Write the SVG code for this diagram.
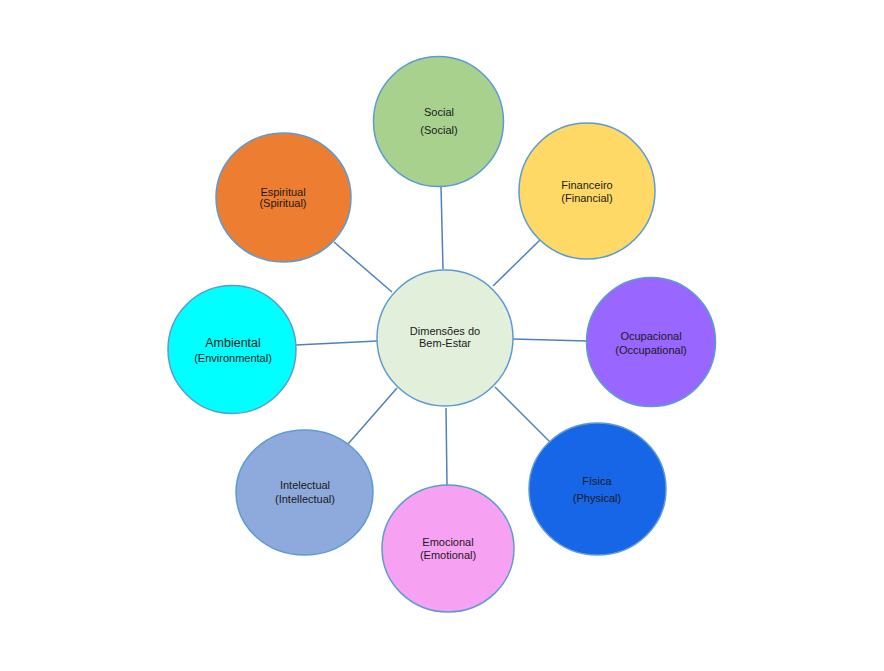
<svg xmlns="http://www.w3.org/2000/svg" width="884" height="671" viewBox="0 0 884 671">
<style>
.n{stroke:#5B9BD5;stroke-width:1.5}
.t{font-family:"Liberation Sans",Arial,sans-serif;font-size:11px;fill:#1a1a1a;text-anchor:middle}
.big{font-size:12.5px}
#connectors line{stroke:#4F81BD;stroke-width:1.5}
</style>
<rect width="884" height="671" fill="#ffffff"/>
<g id="connectors">
<line x1="441" y1="186" x2="443" y2="269"/>
<line x1="540" y1="240" x2="493" y2="286"/>
<line x1="513" y1="339" x2="587" y2="341"/>
<line x1="495" y1="387" x2="551" y2="443"/>
<line x1="446" y1="408" x2="447" y2="485"/>
<line x1="397" y1="388" x2="348" y2="444"/>
<line x1="296" y1="345" x2="377" y2="341"/>
<line x1="334" y1="242" x2="392" y2="292"/>
</g>
<g id="social"><circle class="n" cx="438.5" cy="121.5" r="65" fill="#A9D18E"/><text class="t" x="439" y="116">Social</text><text class="t" x="439" y="134">(Social)</text></g>
<g id="financeiro"><circle class="n" cx="587" cy="191" r="68" fill="#FFD966"/><text class="t" x="587" y="189">Financeiro</text><text class="t" x="587" y="202">(Financial)</text></g>
<g id="ocupacional"><circle class="n" cx="651" cy="342" r="64.5" fill="#9966FF"/><text class="t" x="651" y="340">Ocupacional</text><text class="t" x="651" y="354">(Occupational)</text></g>
<g id="fisica"><ellipse class="n" cx="597.5" cy="489" rx="68.5" ry="66" fill="#1766E8"/><text class="t" x="597" y="485">Física</text><text class="t" x="597" y="502">(Physical)</text></g>
<g id="emocional"><ellipse class="n" cx="448" cy="548.5" rx="66" ry="63.5" fill="#F7A1F2"/><text class="t" x="448" y="546">Emocional</text><text class="t" x="448" y="559">(Emotional)</text></g>
<g id="intelectual"><ellipse class="n" cx="304.5" cy="492.5" rx="68.5" ry="62.5" fill="#8EA9DB"/><text class="t" x="305" y="489">Intelectual</text><text class="t" x="305" y="503">(Intellectual)</text></g>
<g id="ambiental"><circle class="n" cx="232" cy="349.5" r="64" fill="#00FFFF"/><text class="t big" x="233" y="347">Ambiental</text><text class="t" x="233" y="362">(Environmental)</text></g>
<g id="espiritual"><ellipse class="n" cx="283.5" cy="197.5" rx="67.5" ry="64.5" fill="#ED7D31"/><text class="t" x="283" y="196">Espiritual</text><text class="t" x="283" y="207">(Spiritual)</text></g>
<g id="centro"><circle class="n" cx="445" cy="338" r="68" fill="#E2EFDA"/><text class="t" x="445" y="335">Dimensões do</text><text class="t" x="445" y="347">Bem-Estar</text></g>
</svg>
